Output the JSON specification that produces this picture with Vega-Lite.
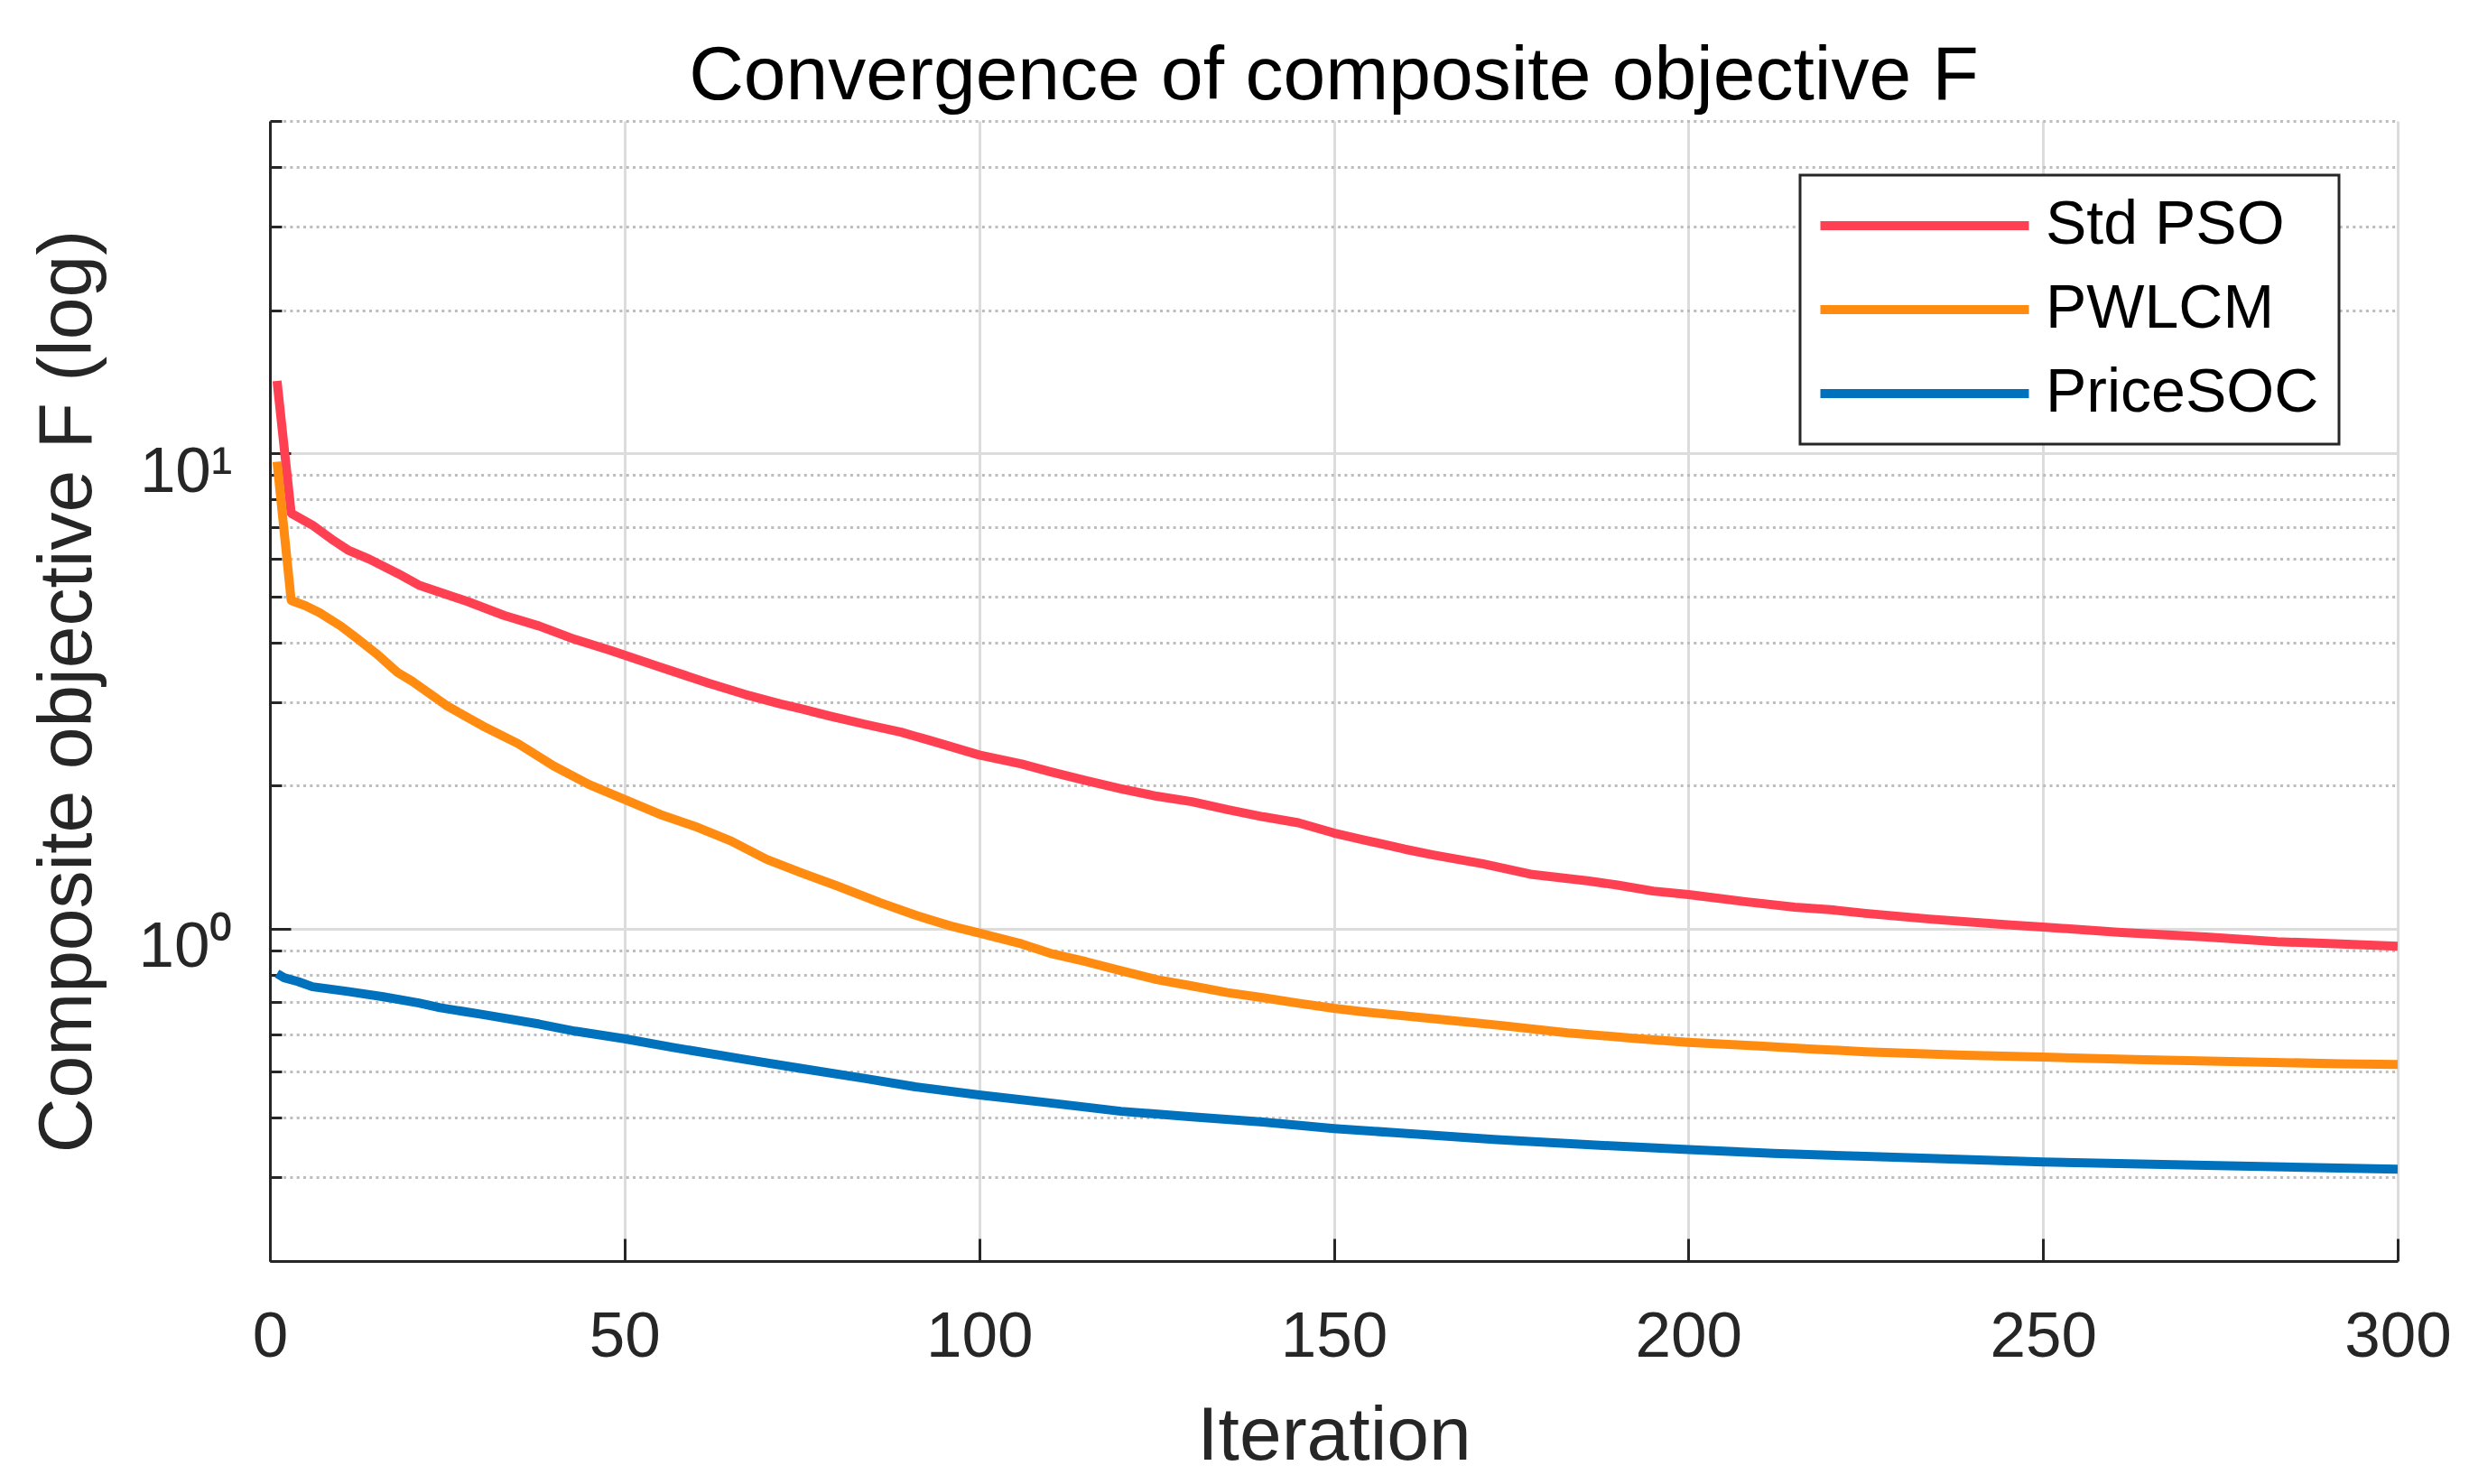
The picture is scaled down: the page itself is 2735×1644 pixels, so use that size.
{
  "$schema": "https://vega.github.io/schema/vega-lite/v6.json",
  "autosize": {"type": "none"},
  "padding": {"left": 299, "top": 134, "right": 79, "bottom": 247},
  "width": 2357,
  "height": 1263,
  "background": "white",
  "title": {
    "text": "Convergence of composite objective F",
    "font": "Liberation Sans",
    "fontSize": 84,
    "fontWeight": "normal",
    "color": "#000000",
    "anchor": "middle",
    "frame": "group",
    "baseline": "alphabetic",
    "offset": 21,
    "dy": 96
  },
  "data": {
    "values": [
      {"it": 1, "method": "Std PSO", "F": 14.2},
      {"it": 3, "method": "Std PSO", "F": 7.48},
      {"it": 6, "method": "Std PSO", "F": 7.06},
      {"it": 9, "method": "Std PSO", "F": 6.55},
      {"it": 11, "method": "Std PSO", "F": 6.26},
      {"it": 14, "method": "Std PSO", "F": 5.99},
      {"it": 18, "method": "Std PSO", "F": 5.59},
      {"it": 21, "method": "Std PSO", "F": 5.28},
      {"it": 28, "method": "Std PSO", "F": 4.87},
      {"it": 33, "method": "Std PSO", "F": 4.56},
      {"it": 38, "method": "Std PSO", "F": 4.33},
      {"it": 43, "method": "Std PSO", "F": 4.06},
      {"it": 48, "method": "Std PSO", "F": 3.85},
      {"it": 55, "method": "Std PSO", "F": 3.55},
      {"it": 62, "method": "Std PSO", "F": 3.28},
      {"it": 67, "method": "Std PSO", "F": 3.11},
      {"it": 72, "method": "Std PSO", "F": 2.97},
      {"it": 75, "method": "Std PSO", "F": 2.9},
      {"it": 79, "method": "Std PSO", "F": 2.8},
      {"it": 84, "method": "Std PSO", "F": 2.69},
      {"it": 89, "method": "Std PSO", "F": 2.59},
      {"it": 93, "method": "Std PSO", "F": 2.49},
      {"it": 100, "method": "Std PSO", "F": 2.32},
      {"it": 106, "method": "Std PSO", "F": 2.22},
      {"it": 110, "method": "Std PSO", "F": 2.14},
      {"it": 115, "method": "Std PSO", "F": 2.05},
      {"it": 120, "method": "Std PSO", "F": 1.97},
      {"it": 125, "method": "Std PSO", "F": 1.9},
      {"it": 130, "method": "Std PSO", "F": 1.85},
      {"it": 135, "method": "Std PSO", "F": 1.78},
      {"it": 140, "method": "Std PSO", "F": 1.72},
      {"it": 145, "method": "Std PSO", "F": 1.67},
      {"it": 150, "method": "Std PSO", "F": 1.59},
      {"it": 154, "method": "Std PSO", "F": 1.54},
      {"it": 160, "method": "Std PSO", "F": 1.47},
      {"it": 164, "method": "Std PSO", "F": 1.43},
      {"it": 171, "method": "Std PSO", "F": 1.37},
      {"it": 178, "method": "Std PSO", "F": 1.3},
      {"it": 186, "method": "Std PSO", "F": 1.26},
      {"it": 190, "method": "Std PSO", "F": 1.235},
      {"it": 195, "method": "Std PSO", "F": 1.2},
      {"it": 200, "method": "Std PSO", "F": 1.18},
      {"it": 208, "method": "Std PSO", "F": 1.14},
      {"it": 215, "method": "Std PSO", "F": 1.11},
      {"it": 220, "method": "Std PSO", "F": 1.097},
      {"it": 225, "method": "Std PSO", "F": 1.077},
      {"it": 234, "method": "Std PSO", "F": 1.048},
      {"it": 245, "method": "Std PSO", "F": 1.019},
      {"it": 250, "method": "Std PSO", "F": 1.008},
      {"it": 261, "method": "Std PSO", "F": 0.982},
      {"it": 273, "method": "Std PSO", "F": 0.961},
      {"it": 283, "method": "Std PSO", "F": 0.939},
      {"it": 292, "method": "Std PSO", "F": 0.929},
      {"it": 300, "method": "Std PSO", "F": 0.919},
      {"it": 1, "method": "PWLCM", "F": 9.6},
      {"it": 3, "method": "PWLCM", "F": 4.9},
      {"it": 5, "method": "PWLCM", "F": 4.78},
      {"it": 7, "method": "PWLCM", "F": 4.62},
      {"it": 10, "method": "PWLCM", "F": 4.33},
      {"it": 12, "method": "PWLCM", "F": 4.11},
      {"it": 15, "method": "PWLCM", "F": 3.79},
      {"it": 18, "method": "PWLCM", "F": 3.46},
      {"it": 20, "method": "PWLCM", "F": 3.32},
      {"it": 25, "method": "PWLCM", "F": 2.94},
      {"it": 30, "method": "PWLCM", "F": 2.67},
      {"it": 35, "method": "PWLCM", "F": 2.45},
      {"it": 40, "method": "PWLCM", "F": 2.2},
      {"it": 45, "method": "PWLCM", "F": 2.01},
      {"it": 50, "method": "PWLCM", "F": 1.87},
      {"it": 55, "method": "PWLCM", "F": 1.74},
      {"it": 60, "method": "PWLCM", "F": 1.64},
      {"it": 65, "method": "PWLCM", "F": 1.53},
      {"it": 70, "method": "PWLCM", "F": 1.4},
      {"it": 75, "method": "PWLCM", "F": 1.31},
      {"it": 80, "method": "PWLCM", "F": 1.23},
      {"it": 86, "method": "PWLCM", "F": 1.135},
      {"it": 91, "method": "PWLCM", "F": 1.068},
      {"it": 96, "method": "PWLCM", "F": 1.013},
      {"it": 100, "method": "PWLCM", "F": 0.979},
      {"it": 106, "method": "PWLCM", "F": 0.929},
      {"it": 110, "method": "PWLCM", "F": 0.888},
      {"it": 115, "method": "PWLCM", "F": 0.853},
      {"it": 120, "method": "PWLCM", "F": 0.816},
      {"it": 125, "method": "PWLCM", "F": 0.782},
      {"it": 130, "method": "PWLCM", "F": 0.758},
      {"it": 135, "method": "PWLCM", "F": 0.734},
      {"it": 140, "method": "PWLCM", "F": 0.716},
      {"it": 145, "method": "PWLCM", "F": 0.697},
      {"it": 150, "method": "PWLCM", "F": 0.68},
      {"it": 154, "method": "PWLCM", "F": 0.669},
      {"it": 164, "method": "PWLCM", "F": 0.647},
      {"it": 174, "method": "PWLCM", "F": 0.625},
      {"it": 183, "method": "PWLCM", "F": 0.604},
      {"it": 193, "method": "PWLCM", "F": 0.587},
      {"it": 200, "method": "PWLCM", "F": 0.577},
      {"it": 210, "method": "PWLCM", "F": 0.567},
      {"it": 217, "method": "PWLCM", "F": 0.559},
      {"it": 225, "method": "PWLCM", "F": 0.551},
      {"it": 239, "method": "PWLCM", "F": 0.542},
      {"it": 250, "method": "PWLCM", "F": 0.537},
      {"it": 263, "method": "PWLCM", "F": 0.531},
      {"it": 278, "method": "PWLCM", "F": 0.525},
      {"it": 292, "method": "PWLCM", "F": 0.52},
      {"it": 300, "method": "PWLCM", "F": 0.518},
      {"it": 1, "method": "PriceSOC", "F": 0.805},
      {"it": 2, "method": "PriceSOC", "F": 0.789},
      {"it": 4, "method": "PriceSOC", "F": 0.774},
      {"it": 6, "method": "PriceSOC", "F": 0.755},
      {"it": 11, "method": "PriceSOC", "F": 0.738},
      {"it": 16, "method": "PriceSOC", "F": 0.719},
      {"it": 21, "method": "PriceSOC", "F": 0.698},
      {"it": 24, "method": "PriceSOC", "F": 0.682},
      {"it": 30, "method": "PriceSOC", "F": 0.66},
      {"it": 38, "method": "PriceSOC", "F": 0.63},
      {"it": 43, "method": "PriceSOC", "F": 0.609},
      {"it": 50, "method": "PriceSOC", "F": 0.587},
      {"it": 57, "method": "PriceSOC", "F": 0.562},
      {"it": 67, "method": "PriceSOC", "F": 0.531},
      {"it": 75, "method": "PriceSOC", "F": 0.508},
      {"it": 84, "method": "PriceSOC", "F": 0.484},
      {"it": 91, "method": "PriceSOC", "F": 0.465},
      {"it": 100, "method": "PriceSOC", "F": 0.447},
      {"it": 110, "method": "PriceSOC", "F": 0.43},
      {"it": 120, "method": "PriceSOC", "F": 0.413},
      {"it": 130, "method": "PriceSOC", "F": 0.402},
      {"it": 140, "method": "PriceSOC", "F": 0.392},
      {"it": 150, "method": "PriceSOC", "F": 0.38},
      {"it": 159, "method": "PriceSOC", "F": 0.372},
      {"it": 173, "method": "PriceSOC", "F": 0.36},
      {"it": 188, "method": "PriceSOC", "F": 0.35},
      {"it": 200, "method": "PriceSOC", "F": 0.343},
      {"it": 212, "method": "PriceSOC", "F": 0.337},
      {"it": 225, "method": "PriceSOC", "F": 0.332},
      {"it": 250, "method": "PriceSOC", "F": 0.323},
      {"it": 273, "method": "PriceSOC", "F": 0.318},
      {"it": 300, "method": "PriceSOC", "F": 0.312}
    ]
  },
  "mark": {"type": "line", "strokeWidth": 10, "strokeJoin": "round", "clip": true},
  "encoding": {
    "x": {
      "field": "it",
      "type": "quantitative",
      "title": "Iteration",
      "scale": {"domain": [0, 300], "nice": false},
      "axis": {
        "values": [0, 50, 100, 150, 200, 250, 300],
        "labelFlush": false,
        "tickSize": -25,
        "labelPadding": 74,
        "titlePadding": 34
      }
    },
    "y": {
      "field": "F",
      "type": "quantitative",
      "title": "Composite objective F (log)",
      "scale": {"type": "log", "domain": [0.2, 50], "nice": false},
      "axis": {
        "values": [0.2, 0.3, 0.4, 0.5, 0.6, 0.7, 0.8, 0.9, 1, 2, 3, 4, 5, 6, 7, 8, 9, 10, 20, 30, 40, 50],
        "labelExpr": "datum.value == 10 ? '10¹' : (datum.value == 1 ? '10⁰' : '')",
        "labelOverlap": false,
        "labelFlush": false,
        "labelBaseline": "alphabetic",
        "labelOffset": 42,
        "labelPadding": 65,
        "titlePadding": 35,
        "tickSize": {"condition": {"test": "datum.value == 1 || datum.value == 10", "value": -23}, "value": -13},
        "gridDash": {"condition": {"test": "datum.value == 1 || datum.value == 10", "value": []}, "value": [3, 4.3]},
        "gridColor": {"condition": {"test": "datum.value == 1 || datum.value == 10", "value": "#DCDCDC"}, "value": "#BDBDBD"}
      }
    },
    "color": {
      "field": "method",
      "type": "nominal",
      "scale": {
        "domain": ["Std PSO", "PWLCM", "PriceSOC"],
        "range": ["#FF4052", "#FF8C10", "#0072BD"]
      },
      "legend": {
        "orient": "none",
        "legendX": 1695,
        "legendY": 60,
        "title": null,
        "symbolType": "M-6,0H6",
        "symbolSize": 1482,
        "symbolStrokeWidth": 10,
        "symbolOffset": 82,
        "labelOffset": 100,
        "labelFont": "Liberation Sans",
        "labelFontSize": 68,
        "labelColor": "#000000",
        "labelLimit": 600,
        "rowPadding": 25,
        "padding": 22,
        "strokeColor": "#262626",
        "fillColor": "white"
      }
    }
  },
  "config": {
    "view": {"stroke": null},
    "legend": {"strokeWidth": 3},
    "axis": {
      "domainColor": "#262626",
      "domainWidth": 3,
      "tickColor": "#262626",
      "tickWidth": 3,
      "labelFont": "Liberation Sans",
      "labelFontSize": 71,
      "labelColor": "#262626",
      "titleFont": "Liberation Sans",
      "titleFontSize": 84,
      "titleFontWeight": "normal",
      "titleColor": "#262626",
      "gridColor": "#DCDCDC",
      "gridWidth": 3
    }
  }
}
